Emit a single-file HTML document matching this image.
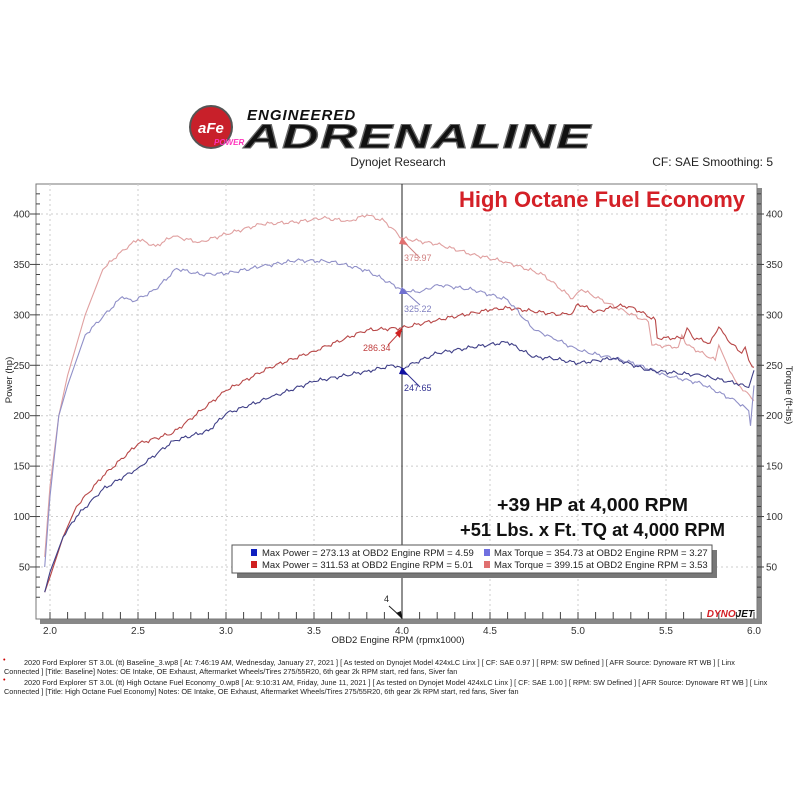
<!DOCTYPE html>
<html><head><meta charset="utf-8"><style>
body{margin:0;background:#fff;width:800px;height:800px;overflow:hidden;font-family:"Liberation Sans",sans-serif}
svg{position:absolute;left:0;top:0}
</style></head><body>
<svg id="s" width="800" height="800" xmlns="http://www.w3.org/2000/svg" font-family="Liberation Sans, sans-serif">
<circle cx="211" cy="127" r="21" fill="#c8202a"/>
<circle cx="211" cy="127" r="21" fill="none" stroke="#555" stroke-width="2"/>
<text x="198" y="133" font-size="15" font-weight="bold" fill="#fff" font-style="italic">aFe</text>
<text x="214" y="145" font-size="8" font-weight="bold" fill="#f3b" font-style="italic">POWER</text>
<text x="247" y="120" font-size="15" font-weight="bold" font-style="italic" fill="#111" letter-spacing="1">ENGINEERED</text>
<text x="244" y="148" font-size="34" font-weight="bold" font-style="italic" fill="#111" stroke="#666" stroke-width="1" letter-spacing="1" textLength="348" lengthAdjust="spacingAndGlyphs">ADRENALINE</text>
<text x="398" y="166" font-size="12" text-anchor="middle" fill="#222">Dynojet Research</text>
<text x="773" y="166" font-size="12" text-anchor="end" fill="#222">CF: SAE Smoothing: 5</text>
<rect x="40" y="619" width="720" height="5" fill="#888"/>
<rect x="757" y="188" width="5" height="436" fill="#888"/>
<rect x="36" y="184" width="721" height="435" fill="#fff" stroke="#777" stroke-width="1"/>
<g id="grid" stroke="#ccc" stroke-dasharray="2,3" stroke-width="1"></g>
<g id="ticks" stroke="#444" stroke-width="1"></g>
<g id="labels" font-size="10" fill="#333"></g>
<line x1="402" y1="184" x2="402" y2="619" stroke="#222" stroke-width="1"/>
<g id="curves" fill="none" stroke-width="1.1"></g>
<g font-size="9">
<text x="404" y="261" fill="#d08080">375.97</text>
<text x="404" y="312" fill="#8080c0">325.22</text>
<text x="363" y="351" fill="#c04040">286.34</text>
<text x="404" y="391" fill="#303090">247.65</text>
</g>
<line x1="402" y1="240" x2="420" y2="258" stroke="#d08080"/>
<line x1="402" y1="289" x2="420" y2="305" stroke="#8080c0"/>
<line x1="402" y1="330" x2="388" y2="345" stroke="#c04040"/>
<line x1="402" y1="369" x2="420" y2="387" stroke="#303090"/>
<polygon points="402,237 408,245 399,244" fill="#e07070"/>
<polygon points="402,287 408,294 399,294" fill="#7070d0"/>
<polygon points="402,328 400,338 395,333" fill="#d02020"/>
<polygon points="402,367 408,375 399,374" fill="#1010a0"/>
<text x="745" y="207" font-size="22" font-weight="bold" fill="#d42027" text-anchor="end">High Octane Fuel Economy</text>
<text x="497" y="511" font-size="18" font-weight="bold" fill="#111" textLength="191" lengthAdjust="spacingAndGlyphs">+39 HP at 4,000 RPM</text>
<text x="460" y="536" font-size="18" font-weight="bold" fill="#111" textLength="265" lengthAdjust="spacingAndGlyphs">+51 Lbs. x Ft. TQ at 4,000 RPM</text>
<rect x="237" y="550" width="480" height="28" fill="#777"/>
<rect x="232" y="545" width="480" height="28" fill="#fff" stroke="#555"/>
<g font-size="9.5" fill="#222">
<rect x="251" y="549" width="6" height="7" fill="#1020c0"/><text x="262" y="556">Max Power = 273.13 at OBD2 Engine RPM = 4.59</text>
<rect x="251" y="561" width="6" height="7" fill="#d02020"/><text x="262" y="568">Max Power = 311.53 at OBD2 Engine RPM = 5.01</text>
<rect x="484" y="549" width="6" height="7" fill="#7070e0"/><text x="494" y="556">Max Torque = 354.73 at OBD2 Engine RPM = 3.27</text>
<rect x="484" y="561" width="6" height="7" fill="#e07070"/><text x="494" y="568">Max Torque = 399.15 at OBD2 Engine RPM = 3.53</text>
</g>
<text x="384" y="602" font-size="9" fill="#222">4</text>
<line x1="389" y1="606" x2="400" y2="616" stroke="#222"/>
<polygon points="402,619 396,613 401,611" fill="#111"/>
<text x="754" y="617" font-size="10" font-weight="bold" font-style="italic" fill="#d42027" text-anchor="end">DYNO<tspan fill="#111">JET</tspan></text>
<text x="398" y="643" font-size="9.5" fill="#222" text-anchor="middle">OBD2 Engine RPM (rpmx1000)</text>
<text x="12" y="380" font-size="9.5" fill="#222" transform="rotate(-90 12 380)" text-anchor="middle">Power (hp)</text>
<text x="786" y="395" font-size="9.5" fill="#222" transform="rotate(90 786 395)" text-anchor="middle">Torque (ft-lbs)</text>
<g font-size="7.3" fill="#222">
<text x="3" y="662" fill="#c00">•</text>
<text x="24" y="665">2020 Ford Explorer ST 3.0L (tt) Baseline_3.wp8 [ At: 7:46:19 AM, Wednesday, January 27, 2021 ] [ As tested on Dynojet Model 424xLC Linx ] [ CF: SAE 0.97 ] [ RPM: SW Defined ] [ AFR Source: Dynoware RT WB ] [ Linx</text>
<text x="4" y="674">Connected ] [Title: Baseline]  Notes: OE Intake, OE Exhaust, Aftermarket Wheels/Tires 275/55R20, 6th gear 2k RPM start, red fans, Siver fan</text>
<text x="3" y="682" fill="#c00">•</text>
<text x="24" y="685">2020 Ford Explorer ST 3.0L (tt) High Octane Fuel Economy_0.wp8 [ At: 9:10:31 AM, Friday, June 11, 2021 ] [ As tested on Dynojet Model 424xLC Linx ] [ CF: SAE 1.00 ] [ RPM: SW Defined ] [ AFR Source: Dynoware RT WB ] [ Linx</text>
<text x="4" y="694">Connected ] [Title: High Octane Fuel Economy]  Notes: OE Intake, OE Exhaust, Aftermarket Wheels/Tires 275/55R20, 6th gear 2k RPM start, red fans, Siver fan</text>
</g>
</svg>
<script>
var NS="http://www.w3.org/2000/svg";
function X(r){return 50+176*(r-2);}
function Y(v){return 214+(400-v)*1.0085;}
function el(p,t,a){var e=document.createElementNS(NS,t);for(var k in a)e.setAttribute(k,a[k]);document.getElementById(p).appendChild(e);return e;}
for(var r=2;r<=5.51;r+=0.5){if(Math.abs(r-4)<0.01)continue;el("grid","line",{x1:X(r),y1:184,x2:X(r),y2:619});}
for(var v=50;v<=400;v+=50){el("grid","line",{x1:36,y1:Y(v),x2:757,y2:Y(v)});
 var t=el("labels","text",{x:30,y:Y(v)+3.5,"text-anchor":"end"});t.textContent=v;
 var t2=el("labels","text",{x:766,y:Y(v)+3.5});t2.textContent=v;
 el("ticks","line",{x1:30,y1:Y(v),x2:36,y2:Y(v)});el("ticks","line",{x1:757,y1:Y(v),x2:764,y2:Y(v)});}
for(var v=20;v<=420;v+=10){el("ticks","line",{x1:36,y1:Y(v),x2:40,y2:Y(v)});el("ticks","line",{x1:757,y1:Y(v),x2:761,y2:Y(v)});}
for(var r=2;r<=6.01;r+=0.1){el("ticks","line",{x1:X(r),y1:612,x2:X(r),y2:619});}
for(var r=2;r<=6.01;r+=0.5){var t=el("labels","text",{x:X(r),y:634,"text-anchor":"middle"});t.textContent=r.toFixed(1);}
function draw(pts,col,seed){
 var s="";
 for(var i=0;i<pts.length-1;i++){
  var a=pts[i],b=pts[i+1];var n=Math.max(1,Math.round((b[0]-a[0])/0.012));
  for(var j=0;j<n;j++){var f=j/n;var r=a[0]+(b[0]-a[0])*f;var v=a[1]+(b[1]-a[1])*f;
   var slope=Math.abs(b[1]-a[1])/Math.max(0.01,b[0]-a[0]);
   if(slope<400&&j>0)v+=1.3*Math.sin(r*97+seed)+0.8*Math.sin(r*231+seed*2);
   s+=X(r).toFixed(1)+","+Y(v).toFixed(1)+" ";}
 }
 var l=pts[pts.length-1];s+=X(l[0]).toFixed(1)+","+Y(l[1]).toFixed(1);
 el("curves","polyline",{points:s,stroke:col});}
draw([[1.97,60],[2.0,130],[2.05,200],[2.1,240],[2.2,300],[2.3,345],[2.4,362],[2.5,375],[2.6,368],[2.7,378],[2.85,372],[3.0,380],[3.2,390],[3.4,392],[3.55,396],[3.7,393],[3.8,399],[3.9,393],[4.0,376],[4.2,370],[4.4,360],[4.6,352],[4.8,340],[4.97,316],[5.02,325],[5.22,307],[5.4,293],[5.42,270],[5.57,268],[5.59,280],[5.62,270],[5.78,255],[5.8,270],[5.85,250],[5.9,233],[6.0,215]],"#e0a0a0",1);
draw([[1.97,25],[2.0,40],[2.075,80],[2.15,110],[2.3,140],[2.5,172],[2.7,183],[3.0,225],[3.25,248],[3.5,264],[3.8,285],[4.0,287],[4.2,295],[4.5,305],[4.6,307],[4.9,300],[4.97,302],[5.0,311],[5.1,303],[5.23,309],[5.3,308],[5.44,295],[5.45,277],[5.6,277],[5.62,287],[5.65,278],[5.75,272],[5.8,288],[5.85,275],[5.93,262],[5.95,268],[5.97,255],[6.0,248]],"#b84848",2);
draw([[1.97,50],[2.0,120],[2.05,200],[2.1,230],[2.2,280],[2.3,298],[2.41,318],[2.47,313],[2.6,325],[2.72,346],[2.85,340],[3.0,341],[3.2,348],[3.4,354],[3.6,353],[3.8,344],[4.0,325],[4.1,322],[4.2,330],[4.4,325],[4.6,315],[4.75,285],[4.85,278],[5.0,265],[5.3,253],[5.5,240],[5.7,232],[5.9,214],[5.97,205],[5.98,190],[6.0,230]],"#9090c8",3);
draw([[1.97,25],[2.0,45],[2.075,80],[2.15,100],[2.3,127],[2.5,148],[2.7,175],[2.9,185],[3.0,202],[3.25,218],[3.5,234],[3.8,244],[3.95,250],[4.0,247],[4.2,262],[4.4,268],[4.6,273],[4.75,258],[4.85,257],[5.0,252],[5.2,257],[5.4,245],[5.7,240],[5.9,232],[5.97,228],[6.0,245]],"#404088",4);
</script>
</body></html>
